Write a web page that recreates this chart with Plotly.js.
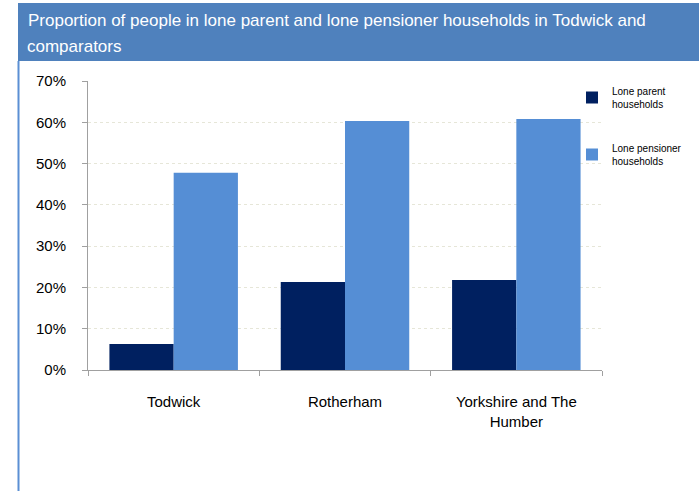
<!DOCTYPE html>
<html>
<head>
<meta charset="utf-8">
<script src="https://cdn.plot.ly/plotly-3.0.1.min.js"></script>
<style>html,body{margin:0;padding:0;background:#fff;}#chart{width:699px;height:491px;}</style>
</head>
<body>
<div id="chart"></div>
<script>
var categories = ["Todwick", "Rotherham", "Yorkshire and The<br>Humber"];
var loneParent = [0.063, 0.213, 0.218];
var lonePensioner = [0.478, 0.603, 0.608];
var seriesNames = ["Lone parent<br>households", "Lone pensioner<br>households"];
var yTicks = [0, 0.1, 0.2, 0.3, 0.4, 0.5, 0.6, 0.7];
var yTickLabels = ["0%", "10%", "20%", "30%", "40%", "50%", "60%", "70%"];

var L = 88, R = 97, T = 81, B = 121, W = 699, H = 491;
var pw = W - L - R, ph = H - T - B;
function px(x) { return (x - L) / pw; }
function py(y) { return (H - B - y) / ph; }

var data = [
  {type: "bar", x: categories, y: loneParent, name: seriesNames[0], legendgroup: "a",
   marker: {color: "#002060"}},
  {type: "bar", x: categories, y: lonePensioner, name: seriesNames[1], legendgroup: "b",
   marker: {color: "#558ED5"}}
];

var layout = {
  width: W, height: H,
  margin: {l: L, r: R, t: T, b: B, pad: 0, autoexpand: false},
  paper_bgcolor: "#fff", plot_bgcolor: "#fff",
  font: {family: "Liberation Sans, Arial, sans-serif", color: "#000"},
  barmode: "group", bargap: 0.25, bargroupgap: 0,
  title: {text: "Proportion of people in lone parent and lone pensioner households in Todwick and",
          font: {color: "#fff", size: 17}, x: 28 / W, xanchor: "left", xref: "container",
          y: 1 - 20 / H, yanchor: "middle", yref: "container", automargin: false},
  annotations: [{text: "comparators", xref: "paper", yref: "paper", x: px(26), y: py(47),
                 xanchor: "left", yanchor: "middle", showarrow: false, borderpad: 0,
                 font: {color: "#fff", size: 17}}],
  xaxis: {type: "category", showline: true, linecolor: "#a0a0a0", linewidth: 1,
          ticks: "outside", tickson: "boundaries", ticklen: 5, tickcolor: "#a0a0a0",
          tickfont: {size: 15}, ticklabelstandoff: 18, fixedrange: true, automargin: false},
  yaxis: {range: [0, 0.7], tickvals: yTicks, ticktext: yTickLabels, showline: true,
          linecolor: "#a0a0a0", linewidth: 1, ticks: "outside", ticklen: 5, tickcolor: "#a0a0a0",
          tickfont: {size: 15}, ticklabelstandoff: 13, showgrid: true, gridcolor: "#e6e6d8",
          griddash: "dot", zeroline: false, automargin: false},
  legend: {x: px(572), y: py(78), xanchor: "left", yanchor: "top", font: {size: 10},
           bgcolor: "rgba(0,0,0,0)", traceorder: "grouped", tracegroupgap: 28, itemwidth: 30},
  shapes: [
    {type: "rect", xref: "paper", yref: "paper", x0: px(18), x1: px(700), y0: py(61), y1: py(3),
     fillcolor: "#4F81BD", line: {width: 0}, layer: "below"},
    {type: "line", xref: "paper", yref: "paper", x0: px(18.5), x1: px(18.5), y0: py(61), y1: py(492),
     line: {color: "#5B8FD4", width: 2}}
  ],
  showlegend: true
};

Plotly.newPlot("chart", data, layout, {displayModeBar: false, staticPlot: true});
</script>
</body>
</html>
